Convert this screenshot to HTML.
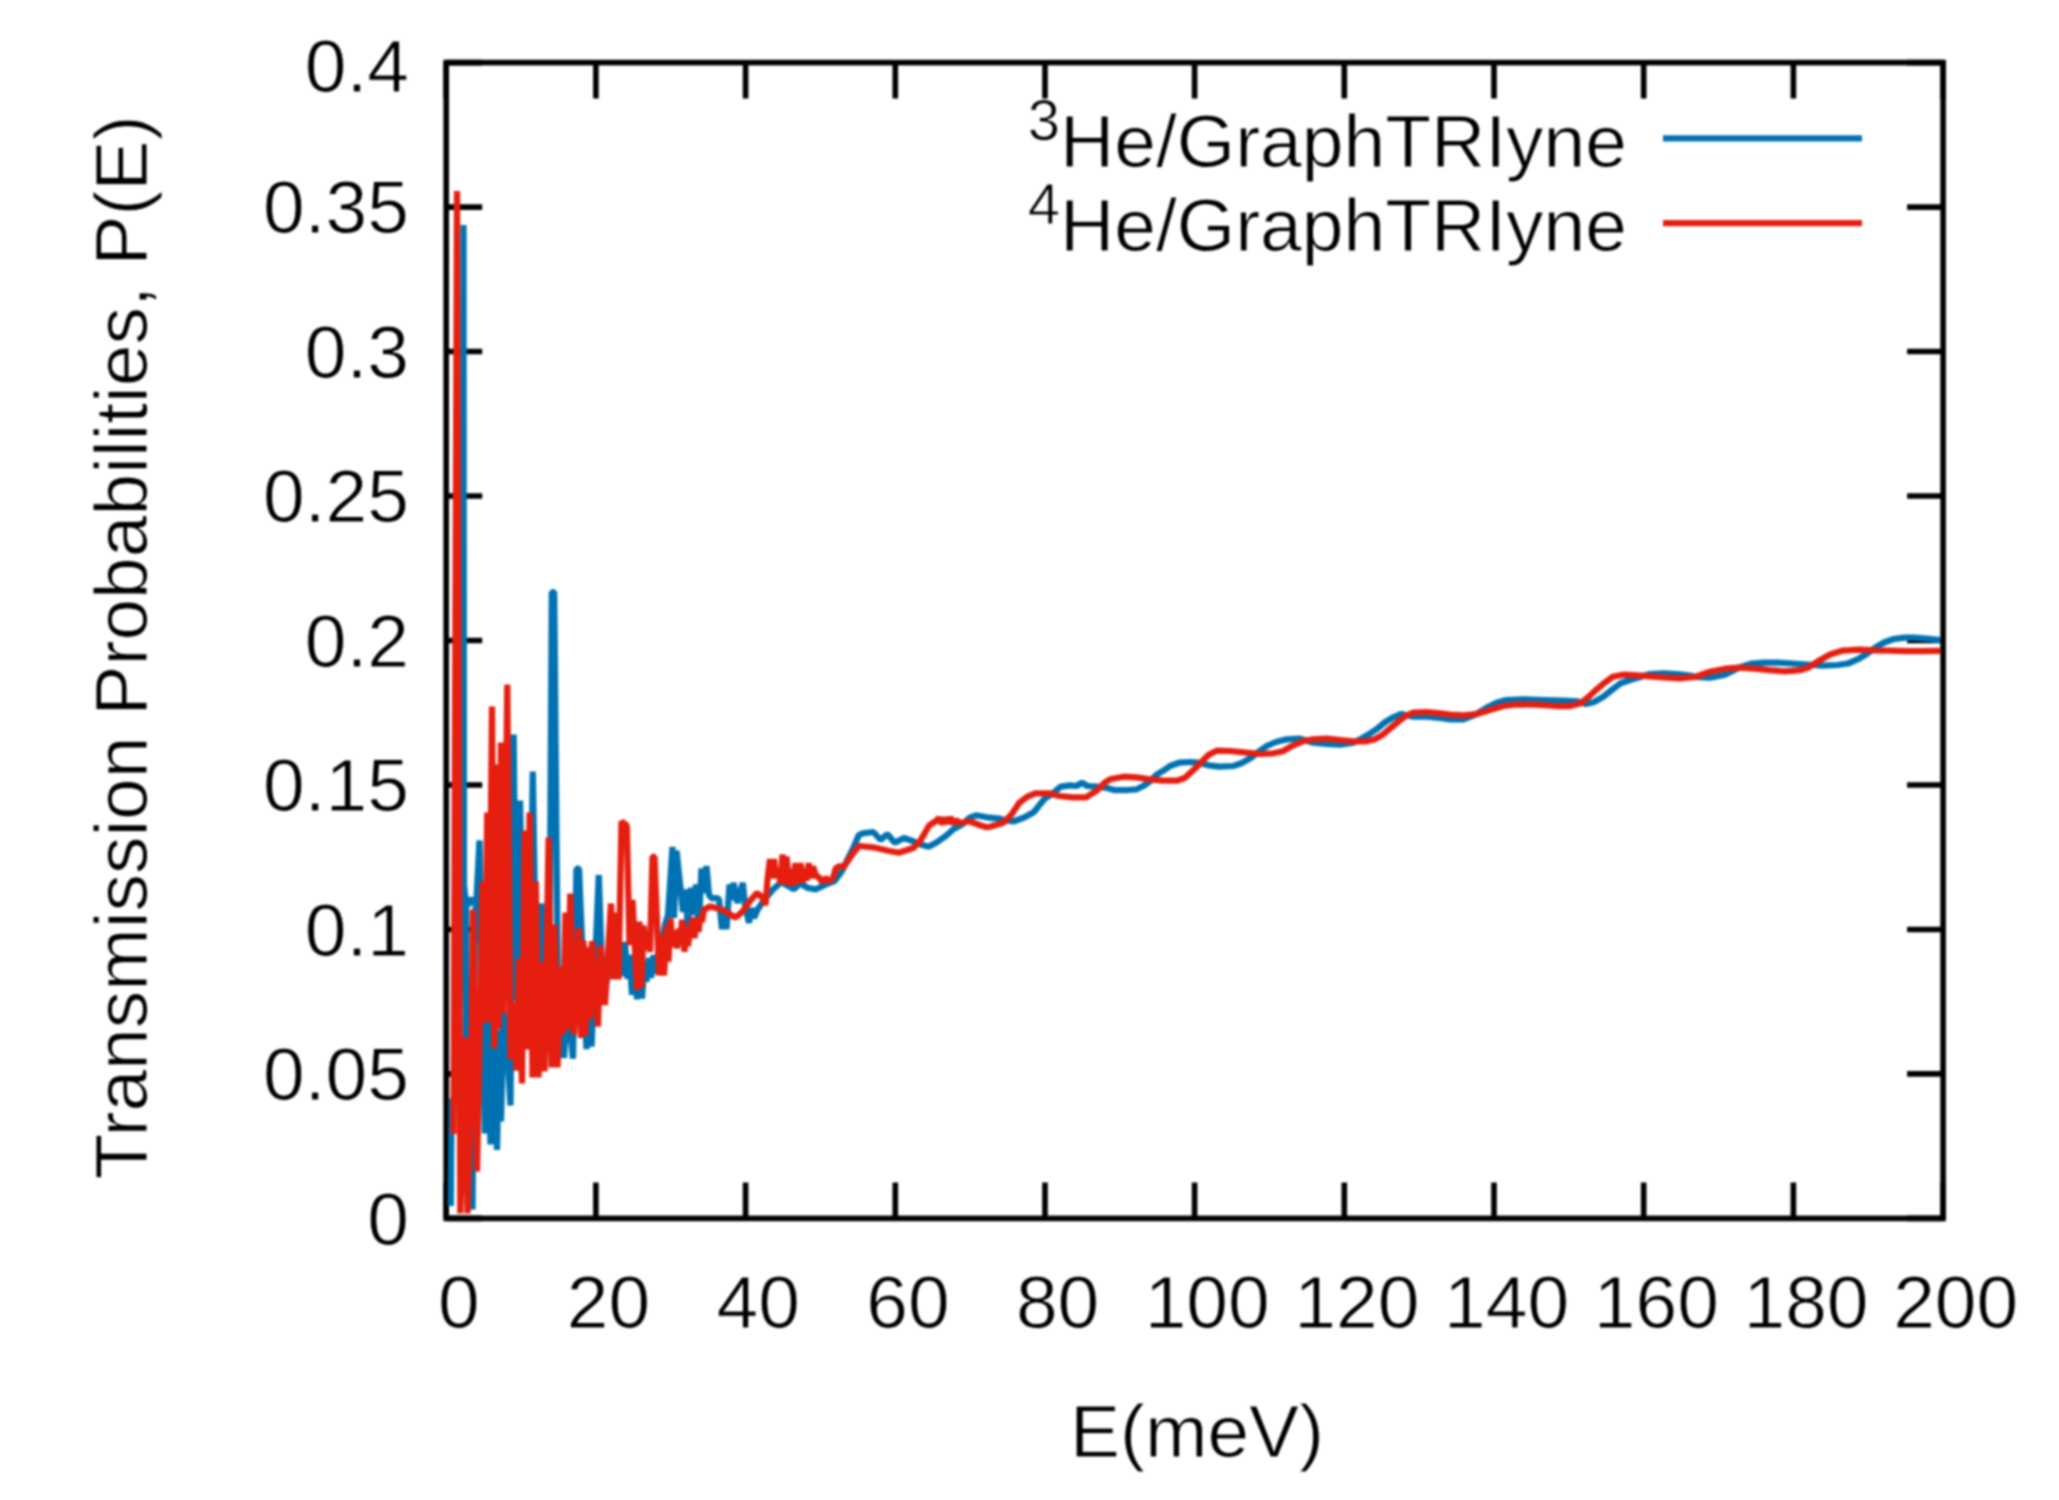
<!DOCTYPE html>
<html lang="en"><head><meta charset="utf-8"><title>Transmission Probabilities</title>
<style>html,body{margin:0;padding:0;background:#fff}body{width:2059px;height:1500px;overflow:hidden}svg{display:block;filter:blur(0.9px)}</style>
</head><body>
<svg width="2059" height="1500" viewBox="0 0 2059 1500">
<rect width="2059" height="1500" fill="#fff"/>
<path fill="none" stroke="#000" stroke-width="5.62" d="M446.2 1218.4v-36M446.2 62.6v36M595.9 1218.4v-36M595.9 62.6v36M745.6 1218.4v-36M745.6 62.6v36M895.3 1218.4v-36M895.3 62.6v36M1045.0 1218.4v-36M1045.0 62.6v36M1194.6 1218.4v-36M1194.6 62.6v36M1344.3 1218.4v-36M1344.3 62.6v36M1494.0 1218.4v-36M1494.0 62.6v36M1643.7 1218.4v-36M1643.7 62.6v36M1793.4 1218.4v-36M1793.4 62.6v36M1943.1 1218.4v-36M1943.1 62.6v36M446.2 1218.4h36M1943.1 1218.4h-36M446.2 1073.9h36M1943.1 1073.9h-36M446.2 929.5h36M1943.1 929.5h-36M446.2 785.0h36M1943.1 785.0h-36M446.2 640.5h36M1943.1 640.5h-36M446.2 496.0h36M1943.1 496.0h-36M446.2 351.5h36M1943.1 351.5h-36M446.2 207.1h36M1943.1 207.1h-36M446.2 62.6h36M1943.1 62.6h-36"/>
<rect x="446.2" y="62.6" width="1496.9" height="1155.8" fill="none" stroke="#000" stroke-width="5.62"/>
<g fill="none" stroke-linejoin="bevel" stroke-linecap="butt" stroke-width="6.25">
<polyline stroke="#0072b2" points="450.8,1206.0 451.5,1100.0 456.0,1100.0 463.0,890.0 463.5,225.0 464.0,885.0 465.5,899.5 474.0,900.0 466.0,906.0 466.0,1040.0 472.5,1209.5 475.0,915.0 476.5,899.0 479.5,840.5 482.0,1000.0 485.0,1133.5 487.0,1000.0 490.5,1144.5 493.0,1000.0 497.0,1149.9 499.5,1030.0 501.0,1121.5 503.5,1012.5 506.5,1040.0 510.5,1105.5 513.7,734.5 516.0,1000.0 520.0,800.5 524.0,1000.0 527.0,900.0 529.5,1000.0 532.8,771.5 536.5,1000.0 541.5,903.5 544.0,1000.0 549.0,1051.5 551.8,592.0 554.2,592.0 558.0,1000.0 564.0,1057.9 567.5,1000.0 573.0,1058.7 576.5,868.5 579.0,868.5 586.5,1049.1 589.0,1000.0 591.5,1046.5 598.8,875.0 601.5,958.0 605.0,990.0 609.0,970.0 613.0,965.0 617.0,960.0 621.0,946.0 623.0,976.0 625.0,942.0 627.5,978.9 629.5,955.0 632.0,994.7 634.5,960.0 637.0,999.3 640.0,965.0 642.0,998.5 644.5,962.0 646.5,981.6 649.0,958.0 651.0,978.0 653.5,955.0 656.0,973.7 658.5,950.0 661.0,965.0 663.0,937.0 665.0,925.0 668.0,915.0 672.5,846.9 674.0,918.0 676.5,850.5 683.0,912.0 686.0,889.5 687.7,929.0 691.0,887.7 693.5,915.0 696.0,884.5 698.5,932.0 701.5,868.5 704.0,893.0 706.5,866.1 709.0,895.0 712.0,898.5 716.0,898.0 719.0,899.0 722.0,929.1 724.0,915.0 726.5,929.1 729.5,884.5 731.5,900.0 733.5,882.9 737.5,903.0 742.8,882.9 745.0,905.0 749.0,922.7 751.5,908.0 754.0,918.0 757.6,909.6 764.0,900.0 773.3,889.3 781.3,882.0 794.0,889.3 800.0,883.3 808.0,888.0 816.0,889.3 825.3,884.7 834.7,881.0 841.3,872.0 853.3,848.0 858.7,835.3 862.7,833.3 873.3,832.0 880.7,840.0 887.3,834.0 894.7,842.7 904.0,838.0 913.3,841.3 921.3,844.7 928.7,846.7 937.3,842.0 946.7,835.3 953.3,829.3 962.7,824.0 969.3,818.0 976.0,815.3 986.7,817.3 1000.0,818.7 1003.3,820.0 1014.0,821.3 1024.7,817.3 1034.0,812.0 1039.3,805.3 1044.7,798.7 1052.7,793.3 1060.7,786.7 1070.0,785.3 1076.7,786.0 1082.0,782.7 1087.3,786.0 1096.7,786.7 1107.3,788.0 1114.0,790.0 1127.3,790.0 1136.7,789.3 1144.7,785.3 1150.0,781.3 1156.7,774.7 1163.3,770.7 1170.0,766.0 1179.3,762.7 1190.0,762.0 1198.0,762.7 1208.7,765.3 1219.3,766.7 1233.3,766.0 1241.3,763.3 1250.7,758.0 1260.0,750.7 1266.7,746.0 1276.0,742.0 1286.7,739.3 1300.0,738.7 1313.3,742.7 1326.7,744.0 1340.0,744.7 1353.3,742.7 1361.3,738.7 1369.3,734.0 1377.3,728.7 1385.3,722.0 1393.3,717.3 1401.3,714.0 1413.3,716.7 1426.7,716.7 1440.0,718.0 1450.0,719.3 1463.3,719.3 1476.7,714.0 1487.3,707.3 1496.7,702.7 1506.0,700.0 1523.3,699.3 1543.3,700.0 1563.3,700.7 1576.7,701.3 1586.0,704.0 1594.0,702.0 1603.3,696.7 1612.7,689.3 1620.7,683.3 1630.0,680.0 1639.3,677.3 1650.0,674.0 1663.3,673.3 1676.7,674.0 1690.0,675.5 1695.0,677.0 1710.0,677.7 1725.0,674.7 1740.0,667.2 1752.0,663.5 1764.0,662.7 1777.5,662.7 1792.5,663.5 1807.5,664.5 1822.5,665.7 1837.5,665.0 1848.0,663.5 1857.0,659.7 1866.0,654.5 1875.0,647.7 1884.0,642.5 1893.0,639.2 1905.0,637.7 1914.0,637.7 1926.0,638.7 1940.5,640.1"/>
<polyline stroke="#e51e10" points="453.5,1134.0 457.0,191.0 460.3,1213.5 465.5,1037.5 467.5,1213.5 471.5,1060.0 472.8,909.5 477.0,1171.5 482.5,881.5 485.0,1022.5 487.2,812.5 489.0,1022.5 492.0,706.5 494.3,1048.5 496.5,764.5 498.5,1029.5 501.0,742.5 503.5,1013.5 507.3,684.5 510.5,1059.5 513.0,1002.5 516.5,1070.5 519.0,958.5 522.0,1083.5 524.8,830.5 527.0,1049.5 529.6,812.5 532.5,1077.5 535.8,881.5 538.5,1077.5 541.5,962.5 544.5,1071.5 548.6,837.5 551.5,1067.5 554.5,924.5 557.5,1067.5 561.0,966.5 563.0,1034.5 565.5,912.5 567.5,1029.5 570.3,893.5 574.0,1034.5 578.8,928.0 581.0,1038.0 583.5,940.5 585.5,1035.5 588.0,947.1 590.0,1019.5 592.0,941.0 598.0,1026.5 600.5,945.5 605.0,1005.0 611.0,903.5 613.5,979.5 616.0,912.5 618.5,979.5 621.5,821.5 626.8,825.5 629.5,945.0 632.5,900.0 637.0,990.2 639.5,921.5 641.5,987.5 643.5,925.5 646.0,950.0 648.0,930.5 650.0,952.0 652.5,856.5 654.5,856.5 659.0,975.5 661.5,934.5 664.0,975.5 667.0,925.5 668.5,961.5 670.5,918.5 672.5,946.5 675.0,930.5 677.0,948.5 679.0,928.5 680.5,945.0 682.0,919.8 684.5,951.7 686.5,925.5 688.0,946.0 690.0,930.0 691.0,936.0 692.5,917.5 694.5,938.1 696.5,918.5 698.5,931.5 700.5,915.5 702.0,922.0 704.0,909.6 710.4,906.4 716.0,908.0 721.6,909.6 728.0,913.0 735.2,917.6 740.0,914.0 744.0,909.6 750.0,901.0 756.8,893.0 762.0,897.0 765.5,905.0 767.5,880.0 770.0,859.2 772.0,878.2 774.0,859.2 776.0,878.2 778.0,868.5 780.5,883.5 782.5,854.5 784.5,884.8 786.5,856.5 789.0,884.8 791.0,868.5 793.0,886.2 795.5,863.2 798.0,883.5 800.5,863.2 803.0,882.5 804.5,868.5 806.5,880.5 808.7,863.2 811.0,878.2 813.0,866.5 816.0,876.0 818.7,877.0 822.0,882.0 826.0,878.0 829.3,881.5 833.0,878.0 836.0,868.0 840.0,866.0 843.0,867.5 845.3,864.7 852.0,854.7 858.7,846.0 873.3,847.3 888.0,850.7 898.7,852.7 913.3,848.0 920.0,841.3 929.3,825.3 936.0,821.0 939.0,818.0 942.0,824.0 945.0,818.0 948.0,823.5 950.5,817.0 953.0,824.0 956.0,820.0 960.0,823.0 969.3,821.3 980.0,825.3 986.7,827.3 990.0,826.7 1003.3,822.7 1011.3,814.7 1019.3,802.7 1027.3,796.7 1035.3,793.3 1048.7,793.3 1059.3,796.0 1072.7,797.3 1086.0,797.3 1096.7,790.7 1104.7,782.7 1110.0,779.3 1123.3,776.7 1136.7,777.3 1150.0,779.3 1163.3,780.7 1176.7,780.7 1184.7,778.0 1192.7,770.7 1200.7,762.7 1208.7,754.7 1216.7,750.7 1230.0,751.0 1246.7,752.7 1260.0,754.0 1273.3,753.3 1282.7,751.3 1292.0,746.0 1302.7,741.3 1313.3,739.3 1326.7,738.7 1340.0,740.0 1353.3,741.3 1366.7,741.3 1374.7,739.3 1382.7,734.7 1390.7,728.0 1398.7,721.3 1406.7,715.3 1413.3,712.7 1426.7,712.0 1440.0,713.3 1450.0,714.7 1463.3,715.3 1476.7,714.0 1490.0,710.0 1503.3,706.0 1516.7,704.4 1536.7,704.7 1556.7,706.0 1570.0,706.0 1580.7,703.3 1588.7,696.7 1596.7,689.3 1604.7,682.7 1612.7,676.7 1623.3,674.7 1636.7,675.3 1650.0,676.4 1663.3,677.3 1680.0,678.3 1695.0,677.0 1710.0,671.7 1725.0,668.7 1740.0,667.7 1755.0,668.7 1770.0,670.2 1785.0,671.3 1800.0,670.2 1809.0,667.2 1819.5,660.5 1830.0,654.5 1842.0,650.7 1860.0,649.7 1875.0,650.3 1890.0,650.7 1905.0,651.2 1920.0,651.2 1940.5,650.9"/>
<path stroke="#0072b2" d="M1663 138.4H1862"/>
<path stroke="#e51e10" d="M1663 223.2H1862"/>
</g>
<g font-family="'Liberation Sans', Arial, sans-serif" font-size="75" fill="#000" stroke="#fff" stroke-width="0.9">
<text x="409" y="1244.9" text-anchor="end">0</text>
<text x="409" y="1100.2" text-anchor="end">0.05</text>
<text x="409" y="955.8" text-anchor="end">0.1</text>
<text x="409" y="811.3" text-anchor="end">0.15</text>
<text x="409" y="666.8" text-anchor="end">0.2</text>
<text x="409" y="522.3" text-anchor="end">0.25</text>
<text x="409" y="377.8" text-anchor="end">0.3</text>
<text x="409" y="233.4" text-anchor="end">0.35</text>
<text x="409" y="91.6" text-anchor="end">0.4</text>
<text x="458.8" y="1328.4" text-anchor="middle">0</text>
<text x="608.5" y="1328.4" text-anchor="middle">20</text>
<text x="758.2" y="1328.4" text-anchor="middle">40</text>
<text x="907.9" y="1328.4" text-anchor="middle">60</text>
<text x="1057.6" y="1328.4" text-anchor="middle">80</text>
<text x="1207.2" y="1328.4" text-anchor="middle">100</text>
<text x="1356.9" y="1328.4" text-anchor="middle">120</text>
<text x="1506.6" y="1328.4" text-anchor="middle">140</text>
<text x="1656.3" y="1328.4" text-anchor="middle">160</text>
<text x="1806.0" y="1328.4" text-anchor="middle">180</text>
<text x="1955.7" y="1328.4" text-anchor="middle">200</text>
<text x="1197" y="1456.7" text-anchor="middle">E(meV)</text>
<text transform="translate(146.5 647.5) rotate(-90)" text-anchor="middle">Transmission Probabilities, P(E)</text>
<text x="1627" y="166.5" text-anchor="end"><tspan font-size="58" dy="-27">3</tspan><tspan dy="27">He/GraphTRIyne</tspan></text>
<text x="1627" y="251.3" text-anchor="end"><tspan font-size="58" dy="-27">4</tspan><tspan dy="27">He/GraphTRIyne</tspan></text>
</g>
</svg>
</body></html>
